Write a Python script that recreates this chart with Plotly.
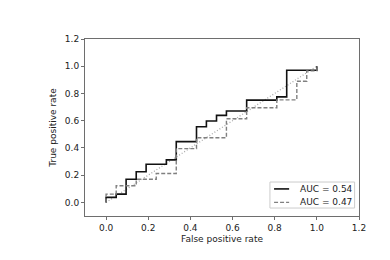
import plotly.graph_objects as go

# ROC curve vertices (false positive rate, true positive rate)
fpr_a = [0.0, 0.0, 0.048, 0.095, 0.143, 0.190, 0.286, 0.333, 0.429, 0.476, 0.524, 0.571, 0.667, 0.810, 0.857, 1.0]
tpr_a = [0.0, 0.037, 0.061, 0.170, 0.225, 0.280, 0.312, 0.446, 0.556, 0.598, 0.639, 0.671, 0.751, 0.775, 0.971, 1.0]
label_a = "AUC = 0.54"

fpr_b = [0.0, 0.0, 0.048, 0.143, 0.238, 0.333, 0.429, 0.571, 0.667, 0.810, 0.905, 0.952, 1.0]
tpr_b = [0.0, 0.061, 0.122, 0.170, 0.212, 0.395, 0.475, 0.614, 0.695, 0.753, 0.890, 0.966, 1.0]
label_b = "AUC = 0.47"

chance_x = [0.0, 1.0]
chance_y = [0.0, 1.0]

tick_vals = [0.0, 0.2, 0.4, 0.6, 0.8, 1.0, 1.2]
tick_text = ["0.0", "0.2", "0.4", "0.6", "0.8", "1.0", "1.2"]

FONT = "DejaVu Sans"
FS = 9
TXT = "#222222"
AX = "#6e6e6e"

style_a = dict(color="#111111", width=1.6)
style_b = dict(color="#808080", width=1.4, dash="4px,2px")

fig = go.Figure()
fig.add_trace(go.Scatter(x=chance_x, y=chance_y, mode="lines",
                         line=dict(color="#aaaaaa", width=1.3, dash="1px,2px"),
                         showlegend=False, hoverinfo="skip"))
fig.add_trace(go.Scatter(x=fpr_a, y=tpr_a, mode="lines", name=label_a,
                         line=dict(shape="hv", **style_a), showlegend=False))
fig.add_trace(go.Scatter(x=fpr_b, y=tpr_b, mode="lines", name=label_b,
                         line=dict(shape="hv", **style_b), showlegend=False))

axis_common = dict(
    showgrid=False, zeroline=False, showline=True, mirror=True,
    linecolor=AX, linewidth=1,
    ticks="outside", ticklen=3, tickwidth=1, tickcolor=AX,
    tickvals=tick_vals, ticktext=tick_text,
    tickfont=dict(family=FONT, size=FS, color=TXT),
)

fig.update_xaxes(range=[-0.1, 1.2], title=dict(text="False positive rate",
                 font=dict(family=FONT, size=FS, color=TXT), standoff=3),
                 **axis_common)
fig.update_yaxes(range=[-0.1, 1.2], title=dict(text="True positive rate",
                 font=dict(family=FONT, size=FS, color=TXT), standoff=6),
                 **axis_common)

# compact legend box in the lower right corner (matplotlib style)
box_x0, box_x1, box_y0, box_y1 = 0.675, 0.984, 0.045, 0.192
sample_x0, sample_x1, text_x = 0.690, 0.745, 0.777
row_y = [0.153, 0.077]
fig.add_shape(type="rect", xref="paper", yref="paper",
              x0=box_x0, x1=box_x1, y0=box_y0, y1=box_y1,
              line=dict(color="#cccccc", width=1), fillcolor="white", layer="above")
for ry, lab, st in zip(row_y, [label_a, label_b], [style_a, style_b]):
    fig.add_shape(type="line", xref="paper", yref="paper",
                  x0=sample_x0, x1=sample_x1, y0=ry, y1=ry,
                  line=st, layer="above")
    fig.add_annotation(xref="paper", yref="paper", x=text_x, y=ry, text=lab,
                       showarrow=False, xanchor="left", yanchor="middle",
                       font=dict(family=FONT, size=FS, color=TXT))

fig.update_layout(
    width=390, height=260,
    margin=dict(l=77, r=39, t=31, b=52),
    paper_bgcolor="white", plot_bgcolor="white",
    font=dict(family=FONT, size=FS, color=TXT),
    showlegend=False,
)

fig.write_html("out.html")
